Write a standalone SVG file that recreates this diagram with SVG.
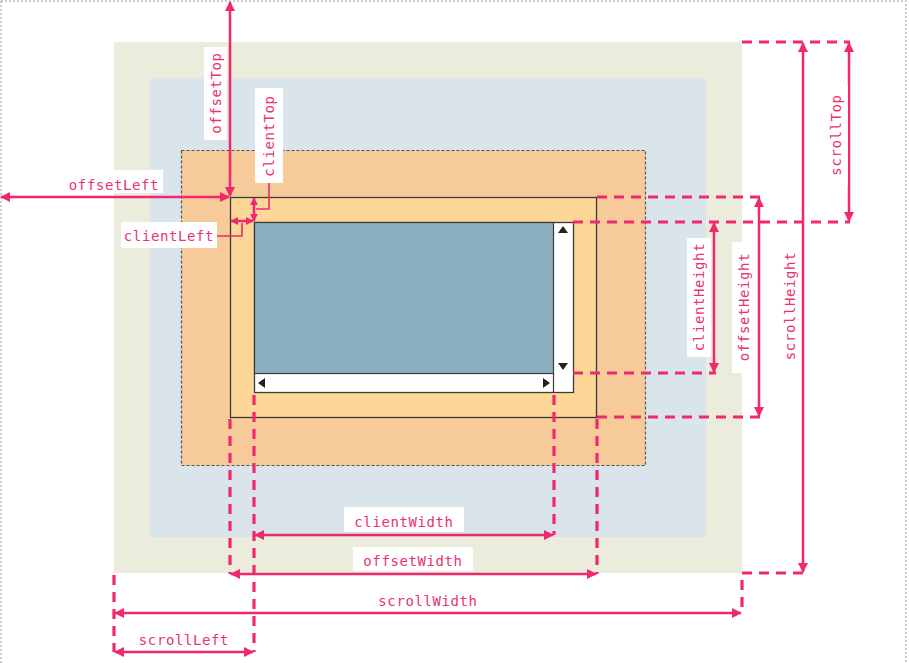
<svg xmlns="http://www.w3.org/2000/svg" width="909" height="663" viewBox="0 0 909 663">
<defs>
<style>
.lbl{font-family:"DejaVu Sans Mono","Liberation Mono",monospace;font-size:14px;fill:#e8336f;letter-spacing:0.6px}
.bg{fill:#ffffff}
.arr{stroke:#f0286e;stroke-width:2.5;fill:none;marker-start:url(#ah);marker-end:url(#ah)}
.arrs{stroke:#f0286e;stroke-width:2.5;fill:none;marker-start:url(#ahs);marker-end:url(#ahs)}
.dash{stroke:#f0286e;stroke-width:3.2;fill:none;stroke-dasharray:10 7}
.conn{stroke:#f0286e;stroke-width:1.6;fill:none}
.tri{fill:#222}
</style>
<marker id="ah" viewBox="0 0 10 10" refX="9" refY="5" markerWidth="11" markerHeight="10" markerUnits="userSpaceOnUse" orient="auto-start-reverse"><path d="M0,0 L10,5 L0,10 Z" fill="#f0286e"/></marker>
<marker id="ahs" viewBox="0 0 10 10" refX="9" refY="5" markerWidth="8" markerHeight="9" markerUnits="userSpaceOnUse" orient="auto-start-reverse"><path d="M0,0 L10,5 L0,10 Z" fill="#f0286e"/></marker>
</defs>
<rect x="0" y="0" width="909" height="663" fill="#ffffff"/>
<rect x="1" y="1" width="905" height="670" fill="none" stroke="#9a9a9a" stroke-width="1" stroke-dasharray="2 2"/>

<g id="scroll-area"><rect x="114" y="42" width="628" height="531" fill="#ebecdc"/></g>
<g id="parent-area"><rect x="150" y="78" width="556" height="459" fill="#d9e5ea"/></g>
<g id="margin-box"><rect x="181.5" y="150.5" width="464" height="315" fill="#f7ca9a" stroke="#555" stroke-width="1.2" stroke-dasharray="3 2"/></g>
<g id="border-box"><rect x="230.5" y="197.5" width="366" height="220" fill="#fdd797" stroke="#3a3a3a" stroke-width="1.3"/></g>
<g id="client-box">
<rect x="254.5" y="222.5" width="319" height="170" fill="#ffffff" stroke="#3a3a3a" stroke-width="1.3"/>
<rect x="254.5" y="222.5" width="299" height="151" fill="#8aafbe" stroke="#3a3a3a" stroke-width="1.2"/>
<line x1="553.5" y1="373" x2="553.5" y2="393" stroke="#3a3a3a" stroke-width="1.2"/>
<path class="tri" d="M563,226 L568,233 L558,233 Z"/>
<path class="tri" d="M563,370 L568,363 L558,363 Z"/>
<path class="tri" d="M258,383 L265,378 L265,388 Z"/>
<path class="tri" d="M550,383 L543,378 L543,388 Z"/>
</g>

<g id="connectors">
<path class="dash" d="M597,197 H762"/>
<path class="dash" d="M597,417 H762"/>
<path class="dash" d="M573,222 H850"/>
<path class="dash" d="M573,373 H716"/>
<path class="dash" d="M742,42 H850"/>
<path class="dash" d="M803,573 H742 V613"/>
<path class="dash" d="M230,419 V574"/>
<path class="dash" d="M254,395 V652"/>
<path class="dash" d="M554,395 V535"/>
<path class="dash" d="M597,419 V574"/>
<path class="dash" d="M114,575 V652"/>

<line class="arr" x1="230" y1="2" x2="230" y2="196"/>
<line class="arr" x1="1" y1="197" x2="229" y2="197"/>
<line class="arrs" x1="254" y1="198" x2="254" y2="221"/>
<line class="arrs" x1="231" y1="221" x2="253" y2="221"/>
<line class="arr" x1="714" y1="223" x2="714" y2="372"/>
<line class="arr" x1="759" y1="198" x2="759" y2="416"/>
<line class="arr" x1="803" y1="43" x2="803" y2="572"/>
<line class="arr" x1="849" y1="43" x2="849" y2="221"/>
<line class="arr" x1="255" y1="535" x2="553" y2="535"/>
<line class="arr" x1="231" y1="574" x2="596" y2="574"/>
<line class="arr" x1="115" y1="613" x2="741" y2="613"/>
<line class="arr" x1="115" y1="652" x2="253" y2="652"/>
<path class="conn" d="M269,183 V209 H256"/>
<path class="conn" d="M217,236 H242 V223"/>
</g>

<g id="label-offsetTop"><rect class="bg" x="204" y="47" width="23" height="93"/><text class="lbl" transform="translate(221,93) rotate(-90)" text-anchor="middle">offsetTop</text></g>
<g id="label-offsetLeft"><rect class="bg" x="65" y="170" width="98" height="23"/><text class="lbl" x="114" y="190" text-anchor="middle">offsetLeft</text></g>
<g id="label-clientTop"><rect class="bg" x="255" y="88" width="28" height="95"/><text class="lbl" transform="translate(274,136) rotate(-90)" text-anchor="middle">clientTop</text></g>
<g id="label-clientLeft"><rect class="bg" x="121" y="222" width="96" height="26"/><text class="lbl" x="169" y="241" text-anchor="middle">clientLeft</text></g>
<g id="label-clientHeight"><rect class="bg" x="687" y="238" width="24" height="119"/><text class="lbl" transform="translate(704,297) rotate(-90)" text-anchor="middle">clientHeight</text></g>
<g id="label-offsetHeight"><rect class="bg" x="732" y="242" width="23" height="131"/><text class="lbl" transform="translate(749,307) rotate(-90)" text-anchor="middle">offsetHeight</text></g>
<g id="label-scrollHeight"><rect class="bg" x="779" y="240" width="22" height="132"/><text class="lbl" transform="translate(795,306) rotate(-90)" text-anchor="middle">scrollHeight</text></g>
<g id="label-scrollTop"><rect class="bg" x="826" y="85" width="22" height="100"/><text class="lbl" transform="translate(841,135) rotate(-90)" text-anchor="middle">scrollTop</text></g>
<g id="label-clientWidth"><rect class="bg" x="344" y="507" width="120" height="25"/><text class="lbl" x="404" y="527" text-anchor="middle">clientWidth</text></g>
<g id="label-offsetWidth"><rect class="bg" x="353" y="547" width="120" height="24"/><text class="lbl" x="413" y="566" text-anchor="middle">offsetWidth</text></g>
<g id="label-scrollWidth"><text class="lbl" x="428" y="606" text-anchor="middle">scrollWidth</text></g>
<g id="label-scrollLeft"><text class="lbl" x="184" y="645" text-anchor="middle">scrollLeft</text></g>
</svg>
